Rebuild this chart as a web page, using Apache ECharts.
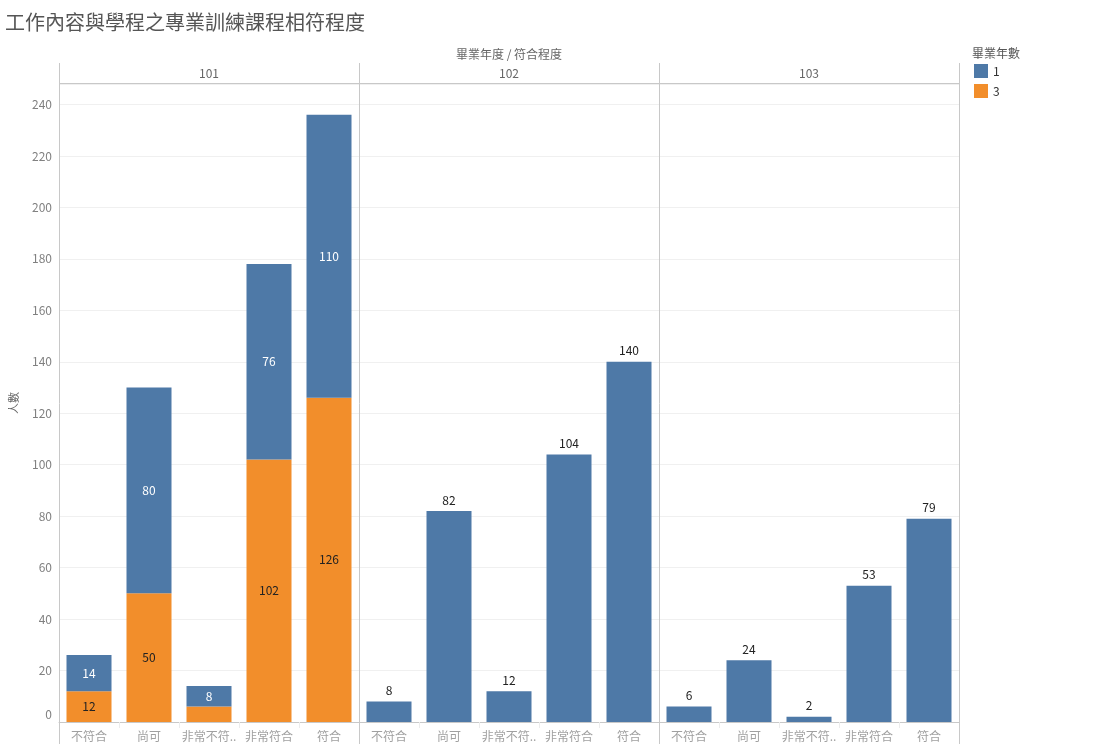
<!DOCTYPE html>
<html>
<head>
<meta charset="utf-8">
<script src="https://cdn.jsdelivr.net/npm/echarts@6/dist/echarts.min.js"></script>
<style>
html,body{margin:0;padding:0;background:#fff;}
#chart{width:1111px;height:744px;}
</style>
</head>
<body>
<div id="chart"></div>
<script>
const titleText = '工作內容與學程之專業訓練課程相符程度';
const headerText = '畢業年度 / 符合程度';
const legendTitle = '畢業年數';
const yAxisName = '人數';
const categories = ['不符合', '尚可', '非常不符合', '非常符合', '符合'];
const years = ['101', '102', '103'];
const seriesNames = ['1', '3'];
// 101: stacked, 3 at the bottom, 1 on top
const y101_grad3 = [12, 50, 6, 102, 126];
const y101_grad1 = [14, 80, 8, 76, 110];
// 102 and 103: only 1
const y102_grad1 = [8, 82, 12, 104, 140];
const y103_grad1 = [6, 24, 2, 53, 79];
const yMax = 248;
const yStep = 20;

const BLUE = '#4e79a7';
const ORANGE = '#f28e2b';
const FONT = '"Noto Sans CJK TC", "Noto Sans", sans-serif';

const chart = echarts.init(document.getElementById('chart'));

const panelLeft = 59, panelW = 300, gridTop = 84, gridBottom = 22;
const grids = years.map((y, i) => ({
  left: panelLeft + i * panelW, width: panelW, top: gridTop, bottom: gridBottom
}));

const xAxes = years.map((y, i) => ({
  type: 'category', gridIndex: i, data: categories,
  axisLine: { show: true, lineStyle: { color: '#c8c8c8', width: 1 } },
  axisTick: { show: true, length: 6, interval: 0, lineStyle: { color: '#ececec' } },
  axisLabel: {
    interval: 0, color: '#a0a0a0', fontSize: 12, fontFamily: FONT, margin: 8,
    width: 58, overflow: 'truncate', ellipsis: '..'
  }
}));

const yAxes = years.map((y, i) => ({
  type: 'value', gridIndex: i, min: 0, max: yMax, interval: yStep,
  name: i === 0 ? yAxisName : '',
  nameLocation: 'middle', nameGap: 40, nameRotate: 90,
  nameTextStyle: { color: '#666', fontSize: 11, fontFamily: FONT },
  axisLine: { show: false }, axisTick: { show: false },
  axisLabel: {
    show: i === 0, color: '#808080', fontSize: 12, fontFamily: FONT, margin: 7,
    showMaxLabel: false,
    formatter: v => (v === 0 ? '{z|0}' : (v % yStep === 0 ? String(v) : '')),
    rich: { z: { color: '#808080', fontSize: 12, fontFamily: FONT, padding: [0, 0, 16, 0] } }
  },
  splitLine: { show: true, lineStyle: { color: '#f0f0f0', width: 1 } }
}));

function withLabels(arr, minShow) {
  return arr.map(v => v < minShow ? { value: v, label: { show: false } } : v);
}

const series = [
  {
    name: seriesNames[1], type: 'bar', xAxisIndex: 0, yAxisIndex: 0, stack: 's101',
    data: withLabels(y101_grad3, 7), itemStyle: { color: ORANGE },
    barCategoryGap: '25%',
    label: { show: true, position: 'inside', color: '#222', fontSize: 12, fontFamily: FONT }
  },
  {
    name: seriesNames[0], type: 'bar', xAxisIndex: 0, yAxisIndex: 0, stack: 's101',
    data: withLabels(y101_grad1, 0), itemStyle: { color: BLUE },
    barCategoryGap: '25%',
    label: { show: true, position: 'inside', color: '#fff', fontSize: 12, fontFamily: FONT }
  },
  {
    name: seriesNames[0], type: 'bar', xAxisIndex: 1, yAxisIndex: 1,
    data: y102_grad1, itemStyle: { color: BLUE }, barCategoryGap: '25%',
    label: { show: true, position: 'top', distance: 5, color: '#222', fontSize: 12, fontFamily: FONT }
  },
  {
    name: seriesNames[0], type: 'bar', xAxisIndex: 2, yAxisIndex: 2,
    data: y103_grad1, itemStyle: { color: BLUE }, barCategoryGap: '25%',
    label: { show: true, position: 'top', distance: 5, color: '#222', fontSize: 12, fontFamily: FONT }
  }
];

const lineStyle = { stroke: '#c8c8c8', lineWidth: 1 };
const graphics = [];
for (let i = 0; i <= years.length; i++) {
  const x = panelLeft + i * panelW + 0.5;
  graphics.push({ type: 'line', silent: true, shape: { x1: x, y1: 63, x2: x, y2: 744 }, style: lineStyle, z: 10 });
}
graphics.push({ type: 'line', silent: true,
  shape: { x1: panelLeft, y1: 83.5, x2: panelLeft + years.length * panelW, y2: 83.5 }, style: lineStyle, z: 10 });
years.forEach((y, i) => {
  graphics.push({ type: 'text', silent: true, x: panelLeft + i * panelW + panelW / 2, y: 73,
    style: { text: y, fill: '#666', font: '12px ' + FONT, textAlign: 'center', textVerticalAlign: 'middle' } });
});
graphics.push({ type: 'text', silent: true, x: panelLeft + years.length * panelW / 2, y: 54,
  style: { text: headerText, fill: '#666', font: '12px ' + FONT, textAlign: 'center', textVerticalAlign: 'middle' } });
graphics.push({ type: 'text', silent: true, x: 972, y: 53,
  style: { text: legendTitle, fill: '#555', font: '12px ' + FONT, textAlign: 'left', textVerticalAlign: 'middle' } });

chart.setOption({
  backgroundColor: '#fff',
  animation: false,
  title: {
    text: titleText, left: 0, top: 7,
    textStyle: { color: '#555', fontSize: 20, fontWeight: 'normal', fontFamily: FONT }
  },
  legend: {
    data: seriesNames, orient: 'vertical', left: 969, top: 59,
    icon: 'rect', itemWidth: 14, itemHeight: 14, itemGap: 6,
    textStyle: { color: '#333', fontSize: 12, fontFamily: FONT }
  },
  grid: grids,
  xAxis: xAxes,
  yAxis: yAxes,
  series: series,
  graphic: graphics
});
</script>
</body>
</html>
